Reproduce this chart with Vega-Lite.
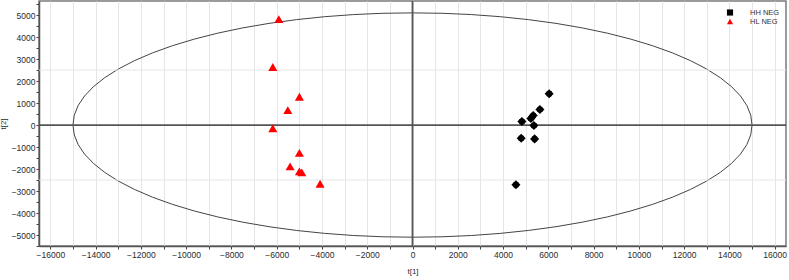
{
  "$schema": "https://vega.github.io/schema/vega-lite/v6.json",
  "width": 747,
  "height": 245,
  "autosize": {"type": "none"},
  "padding": {"left": 39, "top": 1, "right": 3, "bottom": 34},
  "background": "white",
  "config": {
    "font": "Liberation Sans",
    "view": {"stroke": "#7a7a7a", "strokeWidth": 1.5},
    "axis": {
      "domainColor": "#555555",
      "domainWidth": 1.5,
      "tickColor": "#444444",
      "tickSize": 3,
      "labelFont": "Liberation Sans",
      "labelFontSize": 8.5,
      "labelColor": "#2a2a2a",
      "labelOverlap": false,
      "titleFont": "Liberation Sans",
      "titleFontSize": 8,
      "titleFontWeight": "normal",
      "titleColor": "#2a2a2a",
      "gridColor": "#e6e6e6",
      "gridWidth": 1
    }
  },
  "datasets": {
    "ellipse": [
      {"i":0,"x":15000,"y":0},{"i":1,"x":14943,"y":445},{"i":2,"x":14772,"y":886},{"i":3,"x":14489,"y":1320},
      {"i":4,"x":14095,"y":1744},{"i":5,"x":13595,"y":2155},{"i":6,"x":12990,"y":2550},{"i":7,"x":12287,"y":2925},
      {"i":8,"x":11491,"y":3278},{"i":9,"x":10607,"y":3606},{"i":10,"x":9642,"y":3907},{"i":11,"x":8604,"y":4178},
      {"i":12,"x":7500,"y":4417},{"i":13,"x":6339,"y":4622},{"i":14,"x":5130,"y":4792},{"i":15,"x":3882,"y":4926},
      {"i":16,"x":2605,"y":5023},{"i":17,"x":1307,"y":5081},{"i":18,"x":0,"y":5100},{"i":19,"x":-1307,"y":5081},
      {"i":20,"x":-2605,"y":5023},{"i":21,"x":-3882,"y":4926},{"i":22,"x":-5130,"y":4792},{"i":23,"x":-6339,"y":4622},
      {"i":24,"x":-7500,"y":4417},{"i":25,"x":-8604,"y":4178},{"i":26,"x":-9642,"y":3907},{"i":27,"x":-10607,"y":3606},
      {"i":28,"x":-11491,"y":3278},{"i":29,"x":-12287,"y":2925},{"i":30,"x":-12990,"y":2550},{"i":31,"x":-13595,"y":2155},
      {"i":32,"x":-14095,"y":1744},{"i":33,"x":-14489,"y":1320},{"i":34,"x":-14772,"y":886},{"i":35,"x":-14943,"y":445},
      {"i":36,"x":-15000,"y":0},{"i":37,"x":-14943,"y":-445},{"i":38,"x":-14772,"y":-886},{"i":39,"x":-14489,"y":-1320},
      {"i":40,"x":-14095,"y":-1744},{"i":41,"x":-13595,"y":-2155},{"i":42,"x":-12990,"y":-2550},{"i":43,"x":-12287,"y":-2925},
      {"i":44,"x":-11491,"y":-3278},{"i":45,"x":-10607,"y":-3606},{"i":46,"x":-9642,"y":-3907},{"i":47,"x":-8604,"y":-4178},
      {"i":48,"x":-7500,"y":-4417},{"i":49,"x":-6339,"y":-4622},{"i":50,"x":-5130,"y":-4792},{"i":51,"x":-3882,"y":-4926},
      {"i":52,"x":-2605,"y":-5023},{"i":53,"x":-1307,"y":-5081},{"i":54,"x":0,"y":-5100},{"i":55,"x":1307,"y":-5081},
      {"i":56,"x":2605,"y":-5023},{"i":57,"x":3882,"y":-4926},{"i":58,"x":5130,"y":-4792},{"i":59,"x":6339,"y":-4622},
      {"i":60,"x":7500,"y":-4417},{"i":61,"x":8604,"y":-4178},{"i":62,"x":9642,"y":-3907},{"i":63,"x":10607,"y":-3606},
      {"i":64,"x":11491,"y":-3278},{"i":65,"x":12287,"y":-2925},{"i":66,"x":12990,"y":-2550},{"i":67,"x":13595,"y":-2155},
      {"i":68,"x":14095,"y":-1744},{"i":69,"x":14489,"y":-1320},{"i":70,"x":14772,"y":-886},{"i":71,"x":14943,"y":-445},
      {"i":72,"x":15000,"y":0}
    ],
    "points": [
      {"group":"HH NEG","x":6038,"y":1425},
      {"group":"HH NEG","x":5628,"y":708},
      {"group":"HH NEG","x":5332,"y":434},
      {"group":"HH NEG","x":5230,"y":297},
      {"group":"HH NEG","x":4833,"y":160},
      {"group":"HH NEG","x":5363,"y":-23},
      {"group":"HH NEG","x":4802,"y":-603},
      {"group":"HH NEG","x":5394,"y":-630},
      {"group":"HH NEG","x":4568,"y":-2717},
      {"group":"HL NEG","x":-5906,"y":4817},
      {"group":"HL NEG","x":-6171,"y":2639},
      {"group":"HL NEG","x":-4996,"y":1288},
      {"group":"HL NEG","x":-5508,"y":676},
      {"group":"HL NEG","x":-6171,"y":-146},
      {"group":"HL NEG","x":-4996,"y":-1269},
      {"group":"HL NEG","x":-5407,"y":-1881},
      {"group":"HL NEG","x":-4996,"y":-2110},
      {"group":"HL NEG","x":-4891,"y":-2155},
      {"group":"HL NEG","x":-4083,"y":-2671}
    ]
  },
  "resolve": {"scale": {"shape": "independent", "color": "independent"}},
  "layer": [
    {
      "data": {"name": "ellipse"},
      "mark": {"type": "line", "color": "#444444", "strokeWidth": 1, "interpolate": "linear"},
      "encoding": {
        "x": {
          "field": "x", "type": "quantitative",
          "scale": {"domain": [-16500, 16500], "nice": false, "zero": false},
          "title": "t[1]",
          "axis": {
            "values": [-16000,-15000,-14000,-13000,-12000,-11000,-10000,-9000,-8000,-7000,-6000,-5000,-4000,-3000,-2000,-1000,0,1000,2000,3000,4000,5000,6000,7000,8000,9000,10000,11000,12000,13000,14000,15000,16000],
            "tickCount": 200,
            "labelExpr": "datum.value % 2000 == 0 ? datum.label : ''",
            "labelOverlap": false,
            "format": "d",
            "grid": true,
            "labelPadding": 1,
            "titlePadding": 9
          }
        },
        "y": {
          "field": "y", "type": "quantitative",
          "scale": {"domain": [-5500, 5640], "nice": false, "zero": false},
          "title": "t[2]",
          "axis": {
            "values": [-5500,-5000,-4500,-4000,-3500,-3000,-2500,-2000,-1500,-1000,-500,0,500,1000,1500,2000,2500,3000,3500,4000,4500,5000,5500],
            "tickCount": 200,
            "labelExpr": "datum.value % 1000 == 0 ? datum.label : ''",
            "labelOverlap": false,
            "format": "d",
            "grid": false,
            "labelPadding": 1,
            "titlePadding": 4
          }
        },
        "order": {"field": "i", "type": "quantitative"}
      }
    },
    {
      "data": {"values": [{"y": 2500}, {"y": -2500}]},
      "mark": {"type": "rule", "color": "#e6e6e6", "strokeWidth": 1},
      "encoding": {"y": {"field": "y", "type": "quantitative"}}
    },
    {
      "data": {"values": [{"x": 0}]},
      "mark": {"type": "rule", "color": "#555555", "strokeWidth": 1.8},
      "encoding": {"x": {"field": "x", "type": "quantitative"}}
    },
    {
      "data": {"values": [{"y": 0}]},
      "mark": {"type": "rule", "color": "#555555", "strokeWidth": 1.8},
      "encoding": {"y": {"field": "y", "type": "quantitative"}}
    },
    {
      "data": {"name": "points"},
      "mark": {"type": "point", "filled": true, "opacity": 1, "size": 26, "strokeWidth": 0},
      "encoding": {
        "x": {"field": "x", "type": "quantitative"},
        "y": {"field": "y", "type": "quantitative"},
        "color": {
          "field": "group", "type": "nominal",
          "scale": {"domain": ["HH NEG", "HL NEG"], "range": ["#000000", "#ff0000"]},
          "legend": {
            "title": null,
            "orient": "none",
            "legendX": 687,
            "legendY": 7.5,
            "padding": 0,
            "symbolSize": 38,
            "labelFontSize": 7.5,
            "labelColor": "#333333",
            "labelOffset": 16,
            "rowPadding": 1
          }
        },
        "shape": {
          "field": "group", "type": "nominal",
          "scale": {"domain": ["HH NEG", "HL NEG"], "range": ["square", "triangle-up"]}
        }
      }
    },
    {
      "data": {"name": "points"},
      "mark": {"type": "point", "filled": true, "opacity": 1, "size": 82, "strokeWidth": 0},
      "encoding": {
        "x": {"field": "x", "type": "quantitative"},
        "y": {"field": "y", "type": "quantitative"},
        "color": {
          "field": "group", "type": "nominal",
          "scale": {"domain": ["HH NEG", "HL NEG"], "range": ["#000000", "#ff0000"]},
          "legend": null
        },
        "shape": {
          "field": "group", "type": "nominal",
          "scale": {"domain": ["HH NEG", "HL NEG"], "range": ["diamond", "triangle-up"]},
          "legend": null
        }
      }
    }
  ]
}
